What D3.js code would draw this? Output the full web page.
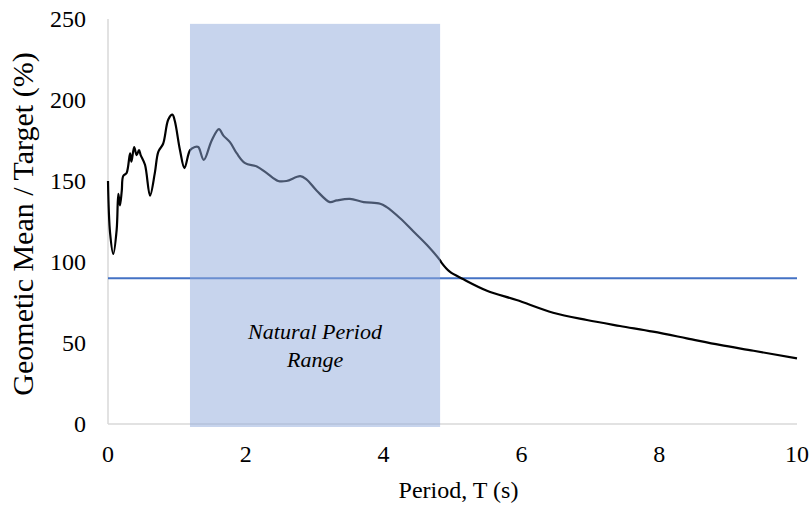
<!DOCTYPE html>
<html>
<head>
<meta charset="utf-8">
<script src="https://cdn.jsdelivr.net/npm/d3@7"></script>
<style>
  body { margin: 0; background: #fff; }
  svg text { font-family: "Liberation Serif", "Times New Roman", serif; fill: #000; }
</style>
</head>
<body>
<svg id="chart" width="811" height="506"></svg>
<script>
// Period (s) and geometric mean / target (%)
const period = [0, 0.03, 0.077, 0.126, 0.15, 0.174, 0.2, 0.22, 0.27, 0.32, 0.34, 0.38, 0.415, 0.45, 0.474,
  0.537, 0.61, 0.68, 0.73, 0.8, 0.875, 0.935, 0.97, 1.045, 1.11, 1.19, 1.26, 1.31, 1.39, 1.505, 1.61,
  1.675, 1.77, 1.87, 1.99, 2.16, 2.3, 2.47, 2.59, 2.79, 2.88, 3.03, 3.22, 3.32, 3.51, 3.71, 3.95, 4.04,
  4.24, 4.43, 4.63, 4.82, 4.84, 4.96, 5.16, 5.5, 5.93, 6.46, 6.95, 7.43, 7.91, 8.4, 8.88, 9.37, 10]
const ratio = [150, 118, 105, 120, 142, 135, 144, 153, 155, 167, 162, 171, 166, 169, 166,
  160, 141, 155, 168, 173, 188, 191, 187, 169, 158, 169, 171, 171, 163, 175, 182,
  178, 174, 167, 161, 159, 155, 150, 150, 153, 151, 144, 137, 138, 139, 137, 136, 134,
  127, 119, 110.5, 101, 99.6, 94, 89.3, 82.3, 76.5, 68.7, 64.2, 60.5, 57, 52.9, 48.8, 45.2, 40.5]

const xTicks = [0, 2, 4, 6, 8, 10]
const yTicks = [0, 50, 100, 150, 200, 250]
const target = [90]
const naturalRange = [1.19, 4.82]
const naturalTop = [247]

const margin = { left: 108, right: 14, top: 19, bottom: 82 }
const width = 811
const height = 506

const svg = d3.select('#chart')

const x = d3.scaleLinear().domain([0, 10]).range([margin.left, width - margin.right])
const y = d3.scaleLinear().domain([0, 250]).range([height - margin.bottom, margin.top])

// axis lines (light grey, no tick marks)
svg.append('line')
  .attr('x1', x(0)).attr('x2', x(0))
  .attr('y1', y(250)).attr('y2', y(0))
  .attr('stroke', '#d9d9d9').attr('stroke-width', 1.5)
svg.append('line')
  .attr('x1', x(0)).attr('x2', x(10))
  .attr('y1', y(0)).attr('y2', y(0))
  .attr('stroke', '#d9d9d9').attr('stroke-width', 1.5)

// tick labels
svg.append('g').selectAll('text')
  .data(yTicks)
  .join('text')
  .attr('x', x(0) - 22)
  .attr('y', d => y(d))
  .attr('dy', '0.33em')
  .attr('text-anchor', 'end')
  .attr('font-size', 24)
  .text(d => d)

svg.append('g').selectAll('text')
  .data(xTicks)
  .join('text')
  .attr('x', d => x(d))
  .attr('y', y(0) + 38)
  .attr('text-anchor', 'middle')
  .attr('font-size', 24)
  .text(d => d)

// target line
svg.append('g').selectAll('line')
  .data(target)
  .join('line')
  .attr('x1', x(0)).attr('x2', x(10))
  .attr('y1', d => y(d)).attr('y2', d => y(d))
  .attr('stroke', '#4472c4').attr('stroke-width', 2)

// spectrum curve
const line = d3.line()
  .x((d, i) => x(period[i]))
  .y(d => y(d))
  .curve(d3.curveCatmullRom.alpha(0.5))

svg.append('path')
  .datum(ratio)
  .attr('d', line)
  .attr('fill', 'none')
  .attr('stroke', '#000')
  .attr('stroke-width', 2.2)
  .attr('stroke-linejoin', 'round')

// natural period range band (drawn over the curve, translucent)
svg.append('rect')
  .attr('x', x(naturalRange[0]))
  .attr('y', y(naturalTop[0]))
  .attr('width', x(naturalRange[1]) - x(naturalRange[0]))
  .attr('height', y(0) - y(naturalTop[0]) + 3)
  .attr('fill', '#8faadc')
  .attr('fill-opacity', 0.5)

const midX = x((naturalRange[0] + naturalRange[1]) / 2)
svg.append('text')
  .attr('x', midX).attr('y', 339)
  .attr('text-anchor', 'middle')
  .attr('font-size', 22)
  .attr('font-style', 'italic')
  .text('Natural Period')
svg.append('text')
  .attr('x', midX).attr('y', 367)
  .attr('text-anchor', 'middle')
  .attr('font-size', 22)
  .attr('font-style', 'italic')
  .text('Range')

// axis titles
svg.append('text')
  .attr('x', 458.5)
  .attr('y', 498)
  .attr('text-anchor', 'middle')
  .attr('font-size', 24)
  .text('Period, T (s)')

svg.append('text')
  .attr('transform', `translate(33,224) rotate(-90)`)
  .attr('text-anchor', 'middle')
  .attr('font-size', 30)
  .text('Geometic Mean / Target (%)')
</script>
</body>
</html>
